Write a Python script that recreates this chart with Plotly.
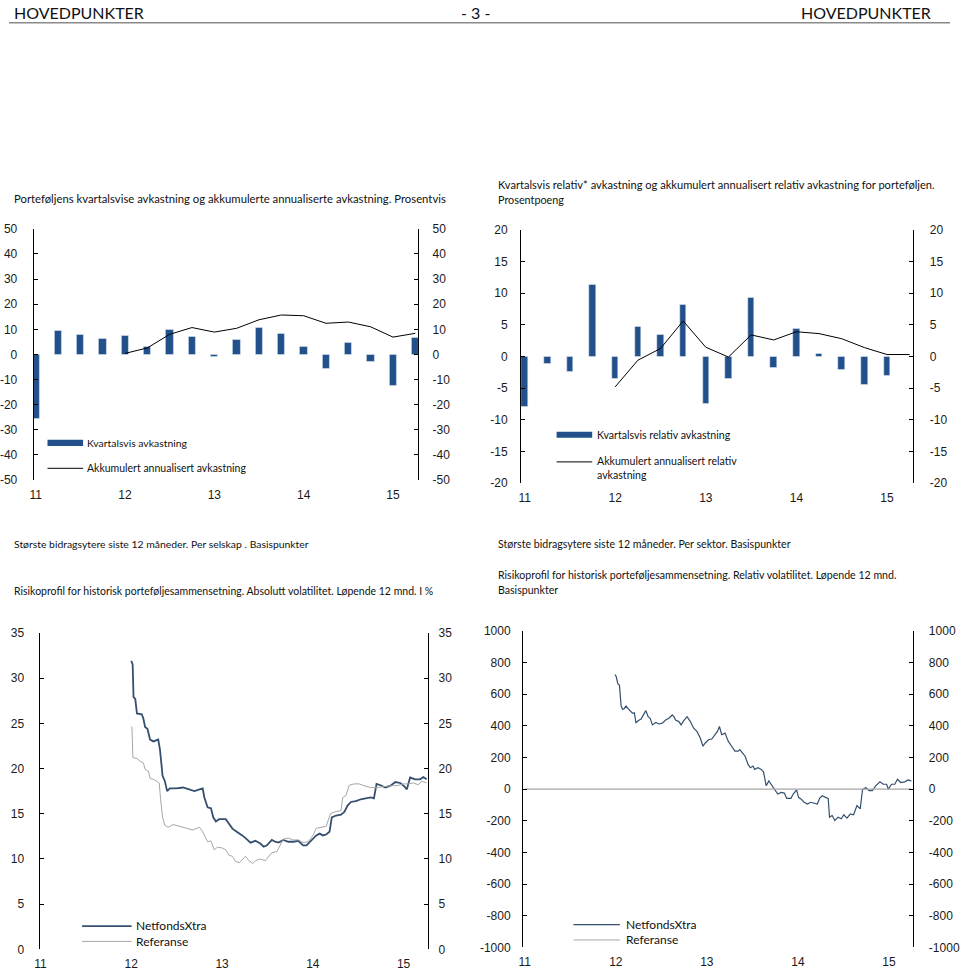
import plotly.graph_objects as go

W, H = 960, 978

# ---------------- data ----------------
quarters = ["11K1", "11K2", "11K3", "11K4", "12K1", "12K2", "12K3", "12K4", "13K1", "13K2",
            "13K3", "13K4", "14K1", "14K2", "14K3", "14K4", "15K1", "15K2"]
year_labels = ["11", "12", "13", "14", "15"]

# Chart 1: quarterly return and cumulative annualised return (%)
c1_bars = [-25.5, 9.5, 7.7, 6.4, 7.4, 2.9, 9.7, 7.2, -0.9, 6.0,
           10.8, 8.2, 3.0, -5.5, 4.6, -3.0, -12.4, 6.5]
c1_line = [None, None, None, None, 0.4, 2.6, 8.0, 10.7, 8.9, 10.4,
           13.8, 15.7, 15.4, 12.4, 12.9, 11.0, 6.9, 8.4]

# Chart 2: quarterly relative return and cumulative annualised relative return (pp)
c2_bars = [-8.0, -1.2, -2.4, 11.35, -3.6, 4.7, 3.4, 8.2, -7.4, -3.5,
           9.2, -1.8, 4.4, 0.35, -2.1, -4.5, -3.1, None]
c2_line = [None, None, None, None, -4.8, -0.6, 1.25, 5.6, 1.45, -0.1,
           3.4, 2.6, 3.9, 3.6, 2.8, 1.4, 0.3, 0.3]

# Chart 3: absolute volatility, rolling 12m (%), x in years (11 = 2011)
c3_net_x = [12.000, 12.015, 12.025, 12.044, 12.062, 12.116, 12.134, 12.152, 12.178, 12.207,
            12.243, 12.297, 12.316, 12.345, 12.370, 12.395, 12.424, 12.497, 12.569, 12.642,
            12.696, 12.751, 12.787, 12.805, 12.841, 12.878, 12.903, 12.932, 12.968, 13.041,
            13.077, 13.114, 13.150, 13.186, 13.222, 13.259, 13.313, 13.367, 13.422, 13.458,
            13.494, 13.549, 13.585, 13.621, 13.676, 13.730, 13.785, 13.839, 13.893, 13.930,
            13.966, 14.002, 14.038, 14.075, 14.111, 14.147, 14.184, 14.209, 14.256, 14.310,
            14.347, 14.383, 14.419, 14.474, 14.528, 14.583, 14.637, 14.673, 14.702, 14.746,
            14.800, 14.855, 14.909, 14.963, 15.000, 15.036, 15.072, 15.127, 15.181, 15.217,
            15.254]
c3_net_y = [31.9, 31.5, 27.9, 27.7, 26.1, 26.0, 25.5, 24.6, 24.4, 23.2,
            23.0, 23.2, 22.1, 19.2, 18.6, 17.5, 17.8, 17.8, 17.9, 17.7,
            17.5, 17.7, 17.8, 16.8, 15.7, 15.6, 14.6, 14.15, 14.4, 14.4,
            13.9, 13.35, 13.1, 12.8, 12.6, 12.3, 11.8, 12.0, 11.7, 11.35,
            11.5, 12.1, 11.9, 11.8, 12.1, 11.9, 11.9, 12.0, 11.5, 11.5,
            11.9, 12.3, 12.6, 12.8, 12.6, 12.7, 13.0, 14.6, 14.8, 14.9,
            15.2, 15.9, 16.3, 16.4, 16.6, 16.7, 16.8, 16.7, 18.3, 18.15,
            17.9, 18.1, 18.5, 18.4, 18.1, 17.7, 19.0, 18.8, 18.8, 19.05,
            18.8]
c3_ref_x = [12.000, 12.007, 12.018, 12.062, 12.098, 12.134, 12.152, 12.189, 12.207, 12.243,
            12.279, 12.308, 12.323, 12.345, 12.370, 12.406, 12.461, 12.533, 12.606, 12.678,
            12.751, 12.787, 12.816, 12.841, 12.878, 12.914, 12.950, 13.005, 13.041, 13.077,
            13.114, 13.150, 13.193, 13.222, 13.259, 13.295, 13.338, 13.367, 13.422, 13.476,
            13.513, 13.549, 13.603, 13.639, 13.676, 13.730, 13.785, 13.839, 13.893, 13.948,
            14.002, 14.038, 14.093, 14.147, 14.194, 14.238, 14.310, 14.329, 14.365, 14.401,
            14.456, 14.510, 14.564, 14.637, 14.709, 14.782, 14.855, 14.927, 15.000, 15.054,
            15.108, 15.163, 15.199, 15.254]
c3_ref_y = [24.6, 24.6, 21.2, 21.1, 20.8, 20.6, 19.9, 19.7, 18.9, 18.8,
            18.6, 18.4, 16.6, 14.6, 13.7, 13.5, 13.8, 13.6, 13.35, 13.2,
            13.5, 13.0, 12.4, 11.9, 12.0, 11.0, 11.3, 11.2, 11.0, 10.4,
            10.3, 9.7, 9.6, 9.9, 10.3, 9.8, 9.5, 9.8, 10.0, 9.8,
            10.3, 10.7, 10.8, 11.5, 12.2, 12.3, 12.1, 12.1, 11.8, 11.9,
            12.6, 13.4, 13.5, 13.6, 15.0, 15.2, 15.35, 16.8, 17.0, 18.15,
            18.3, 18.3, 18.1, 17.9, 17.9, 18.0, 18.1, 18.1, 18.3, 18.3,
            18.4, 18.2, 18.6, 18.4]

# Chart 4: relative volatility, rolling 12m (basis points)
c4_net_x = [11.990, 12.004, 12.022, 12.040, 12.058, 12.076, 12.094, 12.112, 12.149, 12.185,
            12.203, 12.221, 12.257, 12.275, 12.312, 12.330, 12.355, 12.377, 12.402, 12.438,
            12.475, 12.511, 12.547, 12.583, 12.620, 12.638, 12.656, 12.692, 12.717, 12.746,
            12.783, 12.819, 12.855, 12.891, 12.928, 12.957, 12.982, 13.018, 13.054, 13.091,
            13.116, 13.138, 13.163, 13.199, 13.236, 13.272, 13.308, 13.344, 13.362, 13.391,
            13.420, 13.453, 13.478, 13.507, 13.525, 13.562, 13.598, 13.623, 13.652, 13.681,
            13.707, 13.743, 13.779, 13.815, 13.851, 13.877, 13.924, 13.949, 13.986, 14.007,
            14.033, 14.069, 14.105, 14.141, 14.178, 14.214, 14.239, 14.268, 14.304, 14.333,
            14.348, 14.377, 14.406, 14.442, 14.478, 14.504, 14.540, 14.576, 14.612, 14.649,
            14.685, 14.710, 14.746, 14.783, 14.819, 14.855, 14.902, 14.938, 14.975, 14.993,
            15.029, 15.065, 15.094, 15.130, 15.174, 15.210, 15.246]
c4_net_y = [725, 712, 667, 656, 525, 504, 510, 525, 500, 479,
            483, 421, 437, 442, 479, 496, 458, 448, 406, 421,
            412, 417, 437, 448, 469, 458, 437, 427, 406, 433,
            458, 427, 385, 365, 323, 271, 292, 312, 317, 344,
            365, 396, 344, 354, 302, 271, 240, 240, 250, 229,
            208, 156, 135, 146, 125, 135, 125, 108, 21, 52,
            31, 4, -31, -21, -25, -58, -58, -31, -4, -52,
            -62, -83, -94, -83, -87, -94, -58, -42, -52, -58,
            -177, -167, -198, -177, -187, -162, -183, -156, -162, -104,
            -125, -4, 10, -10, -10, 21, 46, 31, 31, 0,
            31, 31, 62, 42, 46, 58, 52]
c4_ref_x = [11.0, 15.25]
c4_ref_y = [0, 0]

# ---------------- styles ----------------
BAR = "#22508a"
NET = "#34506e"
REF = "#a6a6a6"
TICKFONT = dict(family="Liberation Sans, Arial, sans-serif", size=12, color="#1a1a1a")
TXTFONT = "Lato, Carlito, sans-serif"


def px(x):
    return x / W


def py(y):
    return 1 - y / H


fig = go.Figure()
xq = list(range(len(quarters)))

# chart 1
fig.add_trace(go.Bar(x=xq, y=c1_bars, marker_color=BAR, width=0.32, xaxis="x", yaxis="y",
                     name="Kvartalsvis avkastning"))
fig.add_trace(go.Scatter(x=xq, y=c1_line, mode="lines", line=dict(color="black", width=1),
                         xaxis="x", yaxis="y2", name="Akkumulert annualisert avkastning"))
# chart 2
fig.add_trace(go.Bar(x=xq, y=c2_bars, marker_color=BAR, width=0.29, xaxis="x2", yaxis="y3",
                     name="Kvartalsvis relativ avkastning"))
fig.add_trace(go.Scatter(x=xq, y=c2_line, mode="lines", line=dict(color="black", width=1),
                         xaxis="x2", yaxis="y4", name="Akkumulert annualisert relativ avkastning"))
# chart 3
fig.add_trace(go.Scatter(x=c3_ref_x, y=c3_ref_y, mode="lines", line=dict(color=REF, width=1),
                         xaxis="x3", yaxis="y6", name="Referanse"))
fig.add_trace(go.Scatter(x=c3_net_x, y=c3_net_y, mode="lines", line=dict(color=NET, width=1.8),
                         xaxis="x3", yaxis="y5", name="NetfondsXtra"))
# chart 4
fig.add_trace(go.Scatter(x=c4_ref_x, y=c4_ref_y, mode="lines", line=dict(color=REF, width=1.2),
                         xaxis="x4", yaxis="y8", name="Referanse"))
fig.add_trace(go.Scatter(x=c4_net_x, y=c4_net_y, mode="lines", line=dict(color=NET, width=1.2),
                         xaxis="x4", yaxis="y7", name="NetfondsXtra"))


def xax(dom, rng, tickvals, ticktext, anchor):
    return dict(domain=[px(dom[0]), px(dom[1])], range=rng, tickvals=tickvals, ticktext=ticktext,
                showline=False, showgrid=False, zeroline=False, ticks="", anchor=anchor,
                tickfont=TICKFONT, ticklabelstandoff=6, fixedrange=True)


def yax(dom, lo, hi, step, side, anchor, overlay=None, standoff=8):
    vals = list(range(lo, hi + 1, step))
    txt = [str(v) for v in vals]  # ASCII hyphen minus, like the original
    d = dict(domain=[py(dom[1]), py(dom[0])], range=[lo, hi], tickvals=vals, ticktext=txt,
             side=side, anchor=anchor,
             showline=True, linecolor="black", linewidth=1, ticks="inside", ticklen=4,
             tickcolor="black", tickwidth=1, showgrid=False, zeroline=False,
             tickfont=TICKFONT, ticklabelstandoff=standoff, fixedrange=True)
    if overlay:
        d["overlaying"] = overlay
    return d


# domains in pixels: (x0, x1), (ytop, ybottom)
c1x, c1y = (29, 418), (225, 480)
c2x, c2y = (522, 919), (226, 483)
c3x, c3y = (35, 428), (635, 956)
c4x, c4y = (524, 919), (633, 954)

qtick = [0, 4, 8, 12, 16]
ytick = [11, 12, 13, 14, 15]

fig.update_layout(
    width=W, height=H, margin=dict(l=0, r=0, t=0, b=0),
    paper_bgcolor="white", plot_bgcolor="rgba(0,0,0,0)",
    showlegend=False, bargap=0,
    xaxis=xax(c1x, [-0.09, 17.13], qtick, year_labels, "y"),
    yaxis=yax(c1y, -50, 50, 10, "left", "x", standoff=13),
    yaxis2=yax(c1y, -50, 50, 10, "right", "x", "y", standoff=11),
    xaxis2=xax(c2x, [-0.16, 17.17], qtick, year_labels, "y3"),
    yaxis3=yax(c2y, -20, 20, 5, "left", "x2", standoff=10),
    yaxis4=yax(c2y, -20, 20, 5, "right", "x2", "y3", standoff=13),
    xaxis3=xax(c3x, [10.99, 15.27], ytick, year_labels, "y5"),
    yaxis5=yax(c3y, 0, 35, 5, "left", "x3", standoff=12),
    yaxis6=yax(c3y, 0, 35, 5, "right", "x3", "y5", standoff=7),
    xaxis4=xax(c4x, [10.98, 15.27], ytick, year_labels, "y7"),
    yaxis7=yax(c4y, -1000, 1000, 200, "left", "x4", standoff=9),
    yaxis8=yax(c4y, -1000, 1000, 200, "right", "x4", "y7", standoff=12),
)

shapes = []
annotations = []


def text(x, y, s, size=12, anchor="left", family=TXTFONT):
    annotations.append(dict(x=px(x), y=py(y), xref="paper", yref="paper", text=s, showarrow=False,
                            xanchor=anchor, yanchor="middle", align="left", borderpad=0,
                            font=dict(family=family, size=size, color="#111")))


def hline(x0, x1, y, color, width):
    shapes.append(dict(type="line", xref="paper", yref="paper", x0=px(x0), x1=px(x1),
                       y0=py(y), y1=py(y), line=dict(color=color, width=width)))


def rect(x0, x1, y0, y1, color):
    shapes.append(dict(type="rect", xref="paper", yref="paper", x0=px(x0), x1=px(x1),
                       y0=py(y1), y1=py(y0), fillcolor=color, line=dict(width=0)))


# header
text(8, 6, "HOVEDPUNKTER", size=16)
text(476, 6, "- 3 -", size=16, anchor="center")
text(938, 6, "HOVEDPUNKTER", size=16, anchor="right")
hline(4, 956, 16, "#8a8a8a", 1.5)

# captions
text(8, 194, "Porteføljens kvartalsvise avkastning og akkumulerte annualiserte avkastning. Prosentvis", size=11.3)
text(498, 180, "Kvartalsvis relativ* avkastning og akkumulert annualisert relativ avkastning for porteføljen.", size=11.1)
text(498, 195, "Prosentpoeng", size=10.8)
text(8, 545, "Største bidragsytere siste 12 måneder. Per selskap . Basispunkter", size=10.4)
text(498, 545, "Største bidragsytere siste 12 måneder. Per sektor. Basispunkter", size=10.6)
text(8, 592, "Risikoprofil for historisk porteføljesammensetning. Absolutt volatilitet. Løpende 12 mnd. I %", size=10.5)
text(498, 576, "Risikoprofil for historisk porteføljesammensetning. Relativ volatilitet. Løpende 12 mnd.", size=10.6)
text(498, 591, "Basispunkter", size=10.6)

# legend chart 1
rect(43, 79, 439, 445.5, BAR)
text(82, 442, "Kvartalsvis avkastning", size=10.4)
hline(43, 79, 468, "black", 1)
text(82, 468, "Akkumulert annualisert avkastning", size=10.5)

# legend chart 2
rect(558, 594, 431, 437, BAR)
text(598, 434, "Kvartalsvis relativ avkastning", size=10.6)
hline(558, 594, 461.5, "black", 1)
text(598, 461, "Akkumulert annualisert relativ", size=10.6)
text(598, 475, "avkastning", size=10.6)

# legend chart 3
hline(78, 128, 932.5, NET, 1.8)
text(132, 932, "NetfondsXtra", size=12)
hline(78, 128, 948, REF, 1)
text(132, 948, "Referanse", size=12)

# legend chart 4
hline(575, 622, 931, NET, 1.2)
text(627, 931, "NetfondsXtra", size=12)
hline(575, 622, 946.5, REF, 1)
text(627, 946, "Referanse", size=12)

fig.update_layout(shapes=shapes, annotations=annotations)
fig.write_html("out.html")
